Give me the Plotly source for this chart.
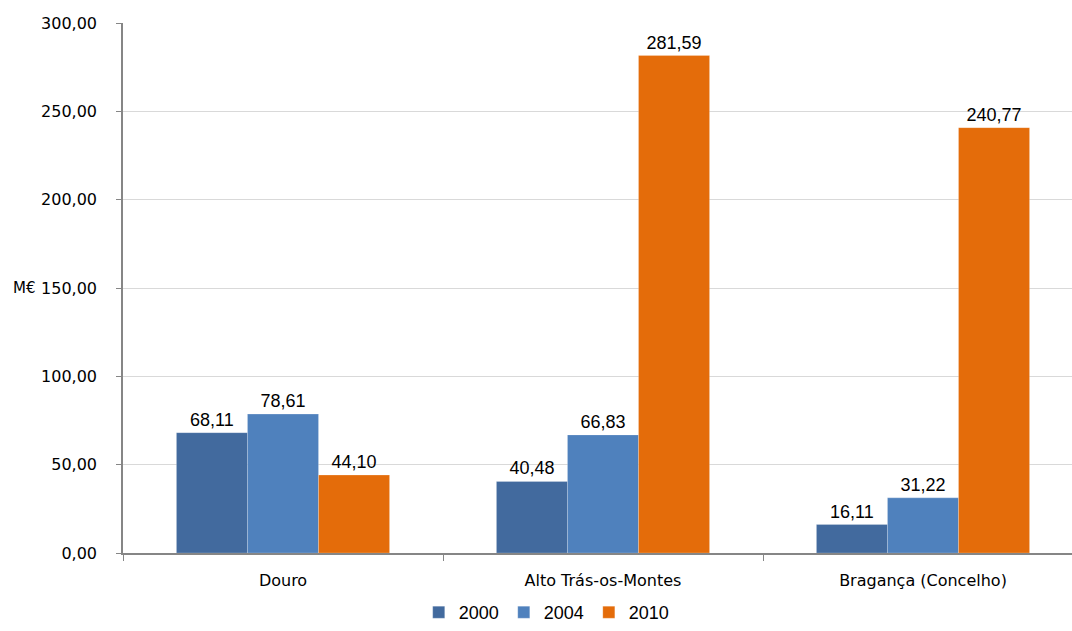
import plotly.graph_objects as go

# Regions and yearly values (M€)
regions = ["Douro", "Alto Trás-os-Montes", "Bragança (Concelho)"]
years = ["2000", "2004", "2010"]
values_2000 = [68.11, 40.48, 16.11]
values_2004 = [78.61, 66.83, 31.22]
values_2010 = [44.10, 281.59, 240.77]
series = [values_2000, values_2004, values_2010]
colors = ["#426A9E", "#4F81BD", "#E46C0A"]

fig = go.Figure()
for year, vals, col in zip(years, series, colors):
    fig.add_trace(go.Bar(
        x=regions, y=vals, name=year,
        marker=dict(color=col, line=dict(color="rgba(255,255,255,0.35)", width=0.6)),
        text=[f"{v:.2f}".replace(".", ",") for v in vals],
        textposition="outside",
        textfont=dict(family="Liberation Sans, Arial", size=18, color="#000000"),
        cliponaxis=False,
    ))

W, H = 1072, 631
left, top, bottom = 123, 23, 78
cat_px = 320.0
plot_w = W - left
x_max = -0.5 + plot_w / cat_px

fig.update_layout(
    width=W, height=H,
    margin=dict(l=left, r=0, t=top, b=bottom, autoexpand=False),
    paper_bgcolor="white", plot_bgcolor="white",
    barmode="group", bargap=0.334, bargroupgap=0,
    separators=",.",
    showlegend=True,
    legend=dict(orientation="h", x=0.51, xanchor="center", xref="container",
                y=-0.016, yanchor="bottom", yref="container",
                font=dict(family="Liberation Sans, Arial", size=18, color="#000000"),
                itemwidth=30, tracegroupgap=0),
    xaxis=dict(
        range=[-0.5, x_max], showgrid=False, automargin=False,
        showline=True, linecolor="#868686", linewidth=1.5,
        ticks="outside", tickson="boundaries", ticklen=6, tickcolor="#868686",
        ticklabelstandoff=12,
        tickfont=dict(family="DejaVu Sans, Verdana", size=16, color="#000000"),
    ),
    yaxis=dict(
        range=[0, 300], dtick=50, tickformat=".2f", automargin=False,
        showgrid=True, gridcolor="#D9D9D9", gridwidth=1.2,
        showline=True, linecolor="#868686", linewidth=1.5,
        ticks="outside", ticklen=5, tickcolor="#868686",
        ticklabelstandoff=16,
        tickfont=dict(family="DejaVu Sans, Verdana", size=16, color="#000000"),
        zeroline=False,
    ),
    annotations=[dict(
        text="M€", xref="paper", yref="y", x=0, y=150,
        xanchor="right", showarrow=False, xshift=-85,
        font=dict(family="DejaVu Sans, Verdana", size=15, color="#000000"),
    )],
)

fig.write_html("out.html")
